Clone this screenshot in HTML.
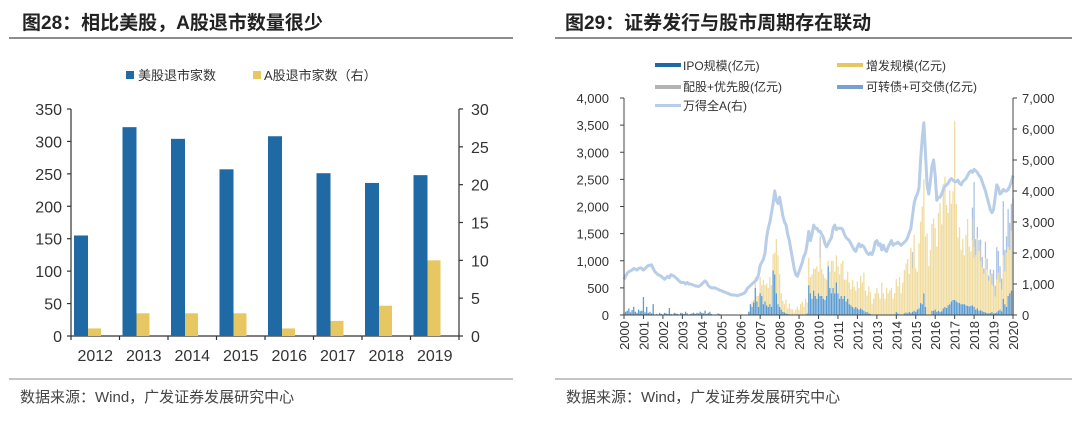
<!DOCTYPE html>
<html><head><meta charset="utf-8"><style>
body{margin:0;background:#fff;}
svg{display:block;font-family:"Liberation Sans","Noto Sans CJK SC",sans-serif;}
</style></head><body>
<svg id="s" width="1080" height="421" viewBox="0 0 1080 421">
<text x="22" y="29" font-size="19" font-weight="bold" fill="#222">图28：相比美股，A股退市数量很少</text>
<line x1="9" y1="38" x2="513" y2="38" stroke="#666" stroke-width="1.5"/>
<text x="565" y="29" font-size="19" font-weight="bold" fill="#222">图29：证券发行与股市周期存在联动</text>
<line x1="555" y1="38" x2="1072" y2="38" stroke="#666" stroke-width="1.5"/>
<line x1="9" y1="379" x2="513" y2="379" stroke="#888" stroke-width="1"/>
<line x1="555" y1="379" x2="1072" y2="379" stroke="#888" stroke-width="1"/>
<text x="20" y="402" font-size="15" fill="#444">数据来源：Wind，广发证券发展研究中心</text>
<text x="566" y="402" font-size="15" fill="#444">数据来源：Wind，广发证券发展研究中心</text>
<g>
<rect x="126" y="71" width="8" height="8" fill="#1f6aa5"/>
<text x="138" y="80" font-size="13" fill="#333">美股退市家数</text>
<rect x="253" y="71" width="8" height="8" fill="#e6c762"/>
<text x="264" y="80" font-size="13" fill="#333">A股退市家数（右）</text>
</g>
<g id="L"></g>
<g>
<rect x="655" y="63" width="26" height="4" fill="#1f6aa5"/>
<text x="683" y="70" font-size="12" fill="#333">IPO规模(亿元)</text>
<rect x="837" y="63" width="26" height="4" fill="#e6c762"/>
<text x="866" y="70" font-size="12" fill="#333">增发规模(亿元)</text>
<rect x="655" y="85" width="26" height="4" fill="#b3b3b3"/>
<text x="683" y="91" font-size="12" fill="#333">配股+优先股(亿元)</text>
<rect x="837" y="85" width="26" height="4" fill="#7a9fd1"/>
<text x="866" y="91" font-size="12" fill="#333">可转债+可交债(亿元)</text>
<rect x="655" y="104" width="26" height="3" fill="#b7cde8"/>
<text x="683" y="110" font-size="12" fill="#333">万得全A(右)</text>
</g>
<g id="R"></g>
</svg>
<script>
// ---- Left chart data ----
const lCategories=["2012","2013","2014","2015","2016","2017","2018","2019"];
const usDelist=[155,322,304,257,308,251,236,248];
const aDelist=[1,3,3,3,1,2,4,10];
const lLeftTicks=[0,50,100,150,200,250,300,350];
const lRightTicks=[0,5,10,15,20,25,30];

// ---- Right chart data (monthly, Jan 2000 .. Jan 2020) ----
const rYears=["2000","2001","2002","2003","2004","2005","2006","2007","2008","2009","2010","2011","2012","2013","2014","2015","2016","2017","2018","2019","2020"];
const rLeftTicks=[0,500,1000,1500,2000,2500,3000,3500,4000];
const rRightTicks=[0,1000,2000,3000,4000,5000,6000,7000];
const ipo=[30,60,80,120,50,90,150,60,40,100,70,80, 330,50,150,40,60,30,200,0,20,10,40,20, 10,40,30,20,130,20,10,40,30,20,10,40, 30,20,60,30,10,20,30,40,20,40,30,60, 40,30,80,20,40,60,20,0,0,10,30,20, 10,0,0,0,0,0,0,0,0,0,0,0, 0,0,0,0,0,60,200,150,230,500,250,150, 400,350,200,250,180,150,200,150,820,750,400,200, 150,100,60,50,30,20,10,10,0,0,0,0, 0,0,0,0,0,30,550,400,300,450,350,300, 400,350,350,300,280,350,900,500,400,500,400,600, 400,300,350,300,350,250,300,200,180,150,120,150, 120,100,120,100,80,50,60,30,20,10,0,0, 0,0,0,0,0,0,0,0,0,0,0,0, 60,30,0,0,0,30,50,30,60,40,60,80, 60,100,120,220,200,400,150,0,0,0,80,80, 100,60,80,60,70,120,150,130,180,200,250,280, 280,250,230,220,200,200,200,180,170,160,170,180, 150,100,120,80,90,70,60,50,40,30,40,60, 30,40,50,80,100,70,300,200,150,350,400,450, 450];
const seo=[0,0,0,0,0,0,0,0,0,0,0,0, 0,0,0,0,0,0,0,0,0,0,0,0, 0,0,0,0,0,0,0,0,0,0,0,0, 0,0,0,0,0,0,0,0,0,0,0,0, 0,0,0,0,0,0,0,0,0,0,0,0, 0,0,0,0,0,0,0,0,0,0,0,0, 0,0,0,0,0,0,0,100,50,200,100,200, 300,200,450,300,400,350,500,400,300,400,1000,900, 600,300,200,150,250,100,200,100,100,50,100,150, 100,200,250,150,300,200,500,300,450,400,500,600, 400,700,500,450,400,300,100,300,600,500,400,500, 500,450,600,700,300,400,500,400,300,500,400,300, 500,400,600,500,700,400,300,500,400,200,300,400, 500,400,300,600,400,300,500,400,450,500,300,400, 600,500,700,400,600,800,900,1000,700,1200,800,1400, 800,700,1200,1500,1800,2100,1300,1500,900,1200,1600,1700, 1500,1200,1800,2000,1600,2300,2400,1900,1700,2100,1800,2000, 3300,1800,1200,1400,1000,1200,900,1300,1600,1100,1000,1200, 900,1000,1300,1100,900,800,700,1000,800,600,700,500, 500,300,600,700,500,400,800,600,1000,900,800,1100, 1300];
const rights=[0,0,0,0,0,0,0,0,0,0,0,0, 0,0,0,0,0,0,0,0,0,0,0,0, 0,0,0,0,0,0,0,0,0,0,0,0, 0,0,0,0,0,0,0,0,0,0,0,0, 0,0,0,0,0,0,0,0,0,0,0,0, 0,0,0,0,0,0,0,0,0,0,0,0, 0,0,0,0,0,0,0,0,0,0,0,0, 0,0,0,0,0,0,0,0,0,0,0,0, 0,0,0,0,0,0,0,0,0,0,0,0, 0,0,0,0,0,0,0,0,0,0,0,0, 0,400,0,0,0,0,0,0,0,0,0,0, 0,0,0,0,0,0,0,0,0,0,0,0, 0,0,0,0,0,0,0,0,0,0,0,0, 0,0,0,0,0,0,0,0,0,0,0,0, 0,0,0,0,0,0,0,0,0,0,300,0, 0,0,0,0,0,0,0,0,0,0,0,0, 0,0,0,0,0,0,0,0,0,0,0,0, 0,0,0,0,0,0,0,0,0,0,0,400, 200,0,0,0,300,0,0,0,0,0,0,0, 0,0,0,0,0,0,0,0,0,0,0,0, 0];
const cb=[0,0,0,0,0,0,0,0,0,0,0,0, 0,0,0,0,0,0,0,0,0,0,0,0, 0,0,0,0,0,0,0,0,0,0,0,0, 0,0,0,0,0,0,0,0,0,0,0,0, 0,0,0,0,0,0,0,0,0,0,0,0, 0,0,0,0,0,0,0,0,0,0,0,0, 0,0,0,0,0,0,0,0,0,0,0,0, 0,0,0,0,0,0,0,0,0,0,0,0, 0,0,0,0,0,0,0,0,0,0,0,0, 0,0,0,0,0,0,0,0,0,0,0,0, 0,0,0,0,0,0,0,0,0,0,0,0, 0,0,0,0,0,0,0,0,0,0,0,0, 0,0,0,0,0,0,0,0,0,0,0,0, 0,0,0,0,0,0,0,0,0,0,0,0, 0,0,0,0,0,0,0,0,0,0,0,0, 0,0,0,0,0,0,0,0,0,0,0,0, 0,0,0,0,0,0,0,0,0,0,0,0, 0,0,0,0,0,0,0,0,0,0,0,200, 1200,300,200,200,100,200,100,300,200,100,100,200, 300,200,600,400,300,200,1000,400,300,700,500,500, 400];
const windA=[1150,1250,1350,1400,1420,1450,1500,1480,1450,1500,1520,1500, 1450,1500,1550,1600,1600,1620,1500,1400,1350,1300,1280,1250, 1200,1150,1200,1250,1200,1300,1270,1250,1200,1150,1100,1050, 1050,1050,1000,1050,1000,1000,980,960,940,930,920,950, 1000,1050,1100,1050,950,900,880,870,880,850,830,800, 790,760,740,720,700,680,650,650,640,640,620,640, 660,680,700,750,850,900,950,1000,1050,1100,1150,1300, 1600,1700,1800,2000,2500,2800,3000,3300,3600,4000,3700,3600, 3800,3500,3200,3000,2900,2600,2400,2100,1800,1500,1300,1250, 1400,1550,1700,1900,2000,2300,2700,2400,2600,2900,2800,2800, 2700,2700,2600,2500,2300,2200,2300,2400,2500,2800,2900,2750, 2800,2800,2800,2750,2600,2500,2450,2400,2300,2200,2100,2050, 2200,2300,2200,2250,2200,2100,2000,1950,2000,1950,2100,2350, 2400,2250,2300,2100,2250,2100,2050,2200,2300,2400,2250,2300, 2300,2350,2300,2250,2300,2350,2400,2500,2650,2800,3200,3600, 3800,3900,4100,5000,5700,6200,5200,4200,3900,4300,4800,5000, 4500,3700,3800,3800,3900,4050,4150,4200,4250,4350,4400,4350, 4300,4300,4350,4250,4200,4300,4350,4400,4500,4600,4650,4600, 4700,4650,4600,4500,4450,4300,4150,4000,3800,3600,3400,3300, 3400,3800,4200,4100,3900,3950,4050,4000,4000,4050,4150,4300, 4500];

const NS="http://www.w3.org/2000/svg";
function mk(parent,tag,attrs){const e=document.createElementNS(NS,tag);for(const k in attrs)e.setAttribute(k,attrs[k]);parent.appendChild(e);return e;}

// ---- Left chart ----
(function(){
const g=document.getElementById('L');
const x0=71,x1=459,yb=336,yt=109;
const bw=(x1-x0)/lCategories.length;
const yL=v=>yb-(v/350)*(yb-yt);
const yR=v=>yb-(v/30)*(yb-yt);
const ax={stroke:"#333","stroke-width":1.2};
let e;
e=mk(g,'line',Object.assign({x1:x0,y1:yt,x2:x0,y2:yb},ax));


e=mk(g,'line',Object.assign({x1:x1,y1:yt,x2:x1,y2:yb},ax));


e=mk(g,'line',Object.assign({x1:x0,y1:yb,x2:x1,y2:yb},ax));


lLeftTicks.forEach(t=>{
 mk(g,'line',Object.assign({x1:x0-4,y1:yL(t),x2:x0,y2:yL(t)},ax));
 e=mk(g,'text',{x:x0-9,y:yL(t)+6,"font-size":16,"text-anchor":"end",fill:"#333"});e.textContent=t;
 
 
});
lRightTicks.forEach(t=>{
 mk(g,'line',Object.assign({x1:x1,y1:yR(t),x2:x1+4,y2:yR(t)},ax));
 e=mk(g,'text',{x:x1+12,y:yR(t)+6,"font-size":16,fill:"#333"});e.textContent=t;
 
 
});
lCategories.forEach((c,i)=>{
 const s=x0+i*bw;
 mk(g,'line',Object.assign({x1:s,y1:yb,x2:s,y2:yb+4},ax));
 if(i==lCategories.length-1) mk(g,'line',Object.assign({x1:x1,y1:yb,x2:x1,y2:yb+4},ax));
 e=mk(g,'rect',{x:s+3,y:yL(usDelist[i]),width:14,height:yb-yL(usDelist[i]),fill:"#1f6aa5"});
 
 
 e=mk(g,'rect',{x:s+17,y:yR(aDelist[i]),width:13,height:yb-yR(aDelist[i]),fill:"#e6c762"});
 
 
 e=mk(g,'text',{x:s+bw/2,y:yb+25,"font-size":16,"text-anchor":"middle",fill:"#333"});e.textContent=c;
 
 
});
})();

// ---- Right chart ----
(function(){
const g=document.getElementById('R');
const x0=624,x1=1013,yb=315,yt=98;
const n=windA.length-1;
const xM=m=>x0+(m/n)*(x1-x0);
const yL=v=>yb-(v/4000)*(yb-yt);
const yR=v=>yb-(v/7000)*(yb-yt);
const ax={stroke:"#444","stroke-width":1};
let e;
const bw=(x1-x0)/n*0.8;
for(let m=0;m<windA.length;m++){
 let base=0;
 [[ipo,"#5b9bd0","ipo"],[seo,"#f0dc9e","seo"],[rights,"#c8c8c8","rights"],[cb,"#a9c2e6","cb"]].forEach(([arr,col,nm])=>{
  const v=arr[m]||0; if(v<=0)return;
  e=mk(g,'rect',{x:xM(m)-bw/2,y:yL(base+v),width:bw,height:yL(base)-yL(base+v),fill:col});
  
  
  base+=v;
 });
}
let d=windA.map((v,i)=>(i?'L':'M')+xM(i).toFixed(2)+','+yR(v).toFixed(2)).join('');
e=mk(g,'path',{d:d,fill:"none",stroke:"#b7cde8","stroke-width":3,"stroke-linejoin":"round"});


e=mk(g,'line',Object.assign({x1:x0,y1:yt,x2:x0,y2:yb},ax));


e=mk(g,'line',Object.assign({x1:x1,y1:yt,x2:x1,y2:yb},ax));


e=mk(g,'line',Object.assign({x1:x0,y1:yb,x2:x1,y2:yb},ax));


rLeftTicks.forEach(t=>{
 mk(g,'line',Object.assign({x1:x0-4,y1:yL(t),x2:x0,y2:yL(t)},ax));
 e=mk(g,'text',{x:x0-15,y:yL(t)+5,"font-size":13,"text-anchor":"end",fill:"#333"});e.textContent=t.toLocaleString('en-US');
 
 
});
rRightTicks.forEach(t=>{
 mk(g,'line',Object.assign({x1:x1,y1:yR(t),x2:x1+4,y2:yR(t)},ax));
 e=mk(g,'text',{x:x1+9,y:yR(t)+5,"font-size":13,fill:"#333"});e.textContent=t.toLocaleString('en-US');
 
 
});
rYears.forEach((yr,i)=>{
 const x=xM(i*12);
 mk(g,'line',Object.assign({x1:x,y1:yb,x2:x,y2:yb+4},ax));
 e=mk(g,'text',{x:0,y:0,"font-size":13,"text-anchor":"end",fill:"#333",transform:`translate(${x+5},${yb+6}) rotate(-90)`});e.textContent=yr;
 
 
});
})();
</script>
</body></html>
